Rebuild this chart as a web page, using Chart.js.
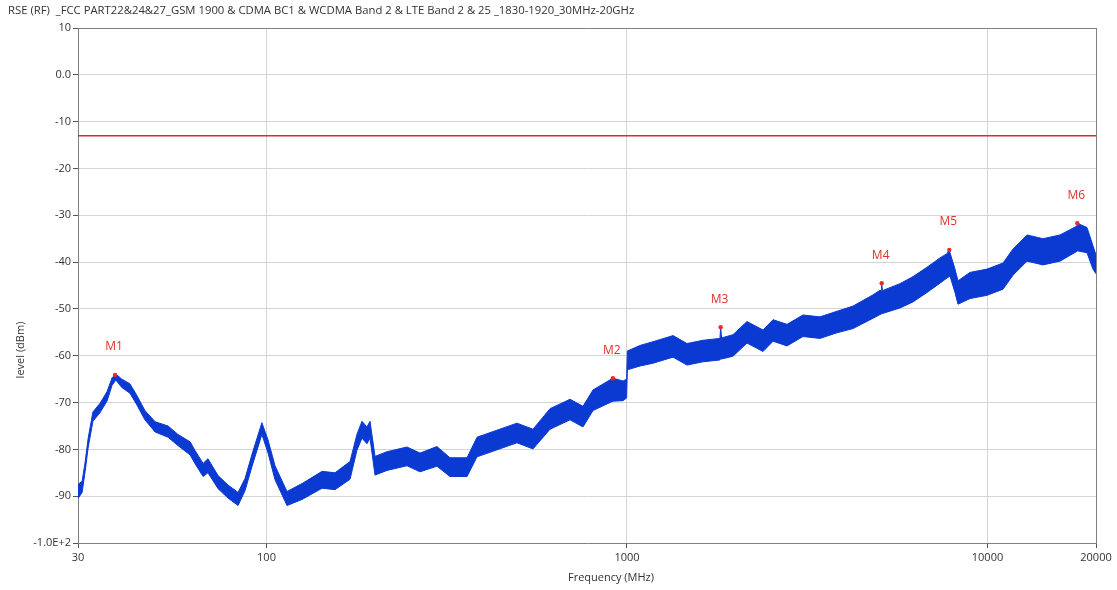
<!DOCTYPE html>
<html><head><meta charset="utf-8">
<script src="https://cdn.jsdelivr.net/npm/chart.js@4.4.0/dist/chart.umd.min.js"></script>
<style>html,body{margin:0;padding:0;background:#fff}#wrap{width:1117px;height:590px}</style>
</head><body><div id="wrap"><canvas id="c" width="1117" height="590"></canvas></div>
<script>
const chartTitle = "RSE (RF)  _FCC PART22&24&27_GSM 1900 & CDMA BC1 & WCDMA Band 2 & LTE Band 2 & 25 _1830-1920_30MHz-20GHz";
const xAxisTitle = "Frequency (MHz)";
const yAxisTitle = "level (dBm)";
const xTicks = [30, 100, 1000, 10000, 20000];
const xTickLabels = ["30", "100", "1000", "10000", "20000"];
const yTicks = [10, 0, -10, -20, -30, -40, -50, -60, -70, -80, -90, -100];
const yTickLabels = ["10", "0.0", "-10", "-20", "-30", "-40", "-50", "-60", "-70", "-80", "-90", "-1.0E+2"];
const limitValue = -13;

const freqs = [30,30.8,31.4,32.0,33.0,34.5,36.1,37.3,38.2,39.7,41.8,43.7,46.0,49.1,53.3,56.8,61.4,63.3,66.7,68.8,73.4,78.2,83.4,87.2,91.2,97.1,101,105.6,114,125.5,142.6,154.9,170.5,178.2,184,190,193.7,200,215.9,245.3,266.6,297,322.9,360,383.7,436,495.3,548.6,611.7,695,755,805,914,975,998,1002,1087,1181,1342,1467,1625,1811,1819,1830,1969,2152,2384,2542,2779,3077,3431,3825,4236,4814,5034,5070,5088,5110,5718,6216,6796,7383,7722,7836,7871,8127,8283,8943,9968,11044,11771,12873,14256,15892,17713,17749,18879,19617,20000];
const upperLevel = [-87.5,-86.8,-82.7,-77.7,-72,-70.2,-67.7,-64.7,-63.9,-65.0,-66,-68.5,-71.7,-74.1,-75,-76.8,-78.4,-80.2,-83,-82,-85.6,-87.6,-89.2,-86.2,-81,-74.3,-78,-83.5,-89,-87.3,-84.7,-85,-82.6,-76.8,-74,-75.2,-74,-81.5,-80.5,-79.5,-80.8,-79.4,-81.8,-81.8,-77.4,-75.9,-74.4,-75.7,-71.3,-69.3,-70.8,-67.3,-64.8,-65.4,-65,-59,-57.8,-57,-55.7,-57.4,-56.7,-56.3,-53.9,-56.2,-55.5,-52.7,-54.5,-52.3,-53.3,-51.3,-51.7,-50.5,-49.4,-47,-46,-46.1,-44.5,-46.1,-44.6,-43.1,-41.1,-39.1,-38.2,-37.4,-38,-41.5,-44,-42.2,-41.5,-40.2,-37.2,-34.2,-35,-34.2,-32.3,-31.7,-32.6,-36.5,-38.5];
const lowerLevel = [-90.5,-89.2,-84.7,-79.7,-74,-72.2,-69.7,-66.3,-65.2,-66.8,-68,-70.5,-73.7,-76.3,-77.4,-79.2,-81.2,-83,-85.8,-85,-88.4,-90.4,-92,-88.8,-83.6,-76.8,-80.8,-86.5,-92,-90.7,-88.3,-88.6,-86.4,-80.2,-77.6,-78.8,-77.6,-85.5,-84.5,-83.5,-84.8,-83.6,-85.8,-85.8,-81.6,-80.1,-78.6,-79.9,-75.7,-73.7,-75.2,-71.7,-69.7,-69.6,-69,-63,-62.2,-61.6,-60.3,-62,-61.3,-60.9,-60.6,-60.7,-60.1,-57.3,-59.1,-56.9,-57.9,-55.9,-56.3,-55.1,-54.2,-52,-51.2,-51.1,-51.0,-51.0,-49.8,-48.5,-46.5,-44.5,-43.4,-43.1,-43,-46.5,-49,-47.8,-47.1,-45.8,-42.8,-39.8,-40.6,-39.8,-37.7,-37.6,-38,-41.5,-42.5];

const markerNames = ["M1", "M2", "M3", "M4", "M5", "M6"];
const markerFreqs = [38.0, 914, 1819, 5088, 7836, 17749];
const markerLevels = [-64.1, -64.8, -53.9, -44.5, -37.4, -31.7];

const FONT = "'Open Sans', 'DejaVu Sans', sans-serif";
const BLUE = '#0b3ad2';

const textPlugin = {
  id: 'texts',
  afterDraw(chart) {
    const ctx = chart.ctx;
    const xs = chart.scales.x, ys = chart.scales.y;
    ctx.save();
    ctx.fillStyle = '#333';
    ctx.font = "11.3px " + FONT;
    ctx.textAlign = 'left'; ctx.textBaseline = 'middle';
    ctx.fillText(chartTitle, 8, 11);
    ctx.font = "11px " + FONT;
    ctx.textAlign = 'center';
    ctx.fillText(xAxisTitle, 611, 578);
    ctx.translate(21, 350);
    ctx.rotate(-Math.PI / 2);
    ctx.fillText(yAxisTitle, 0, 0);
    ctx.restore();
    ctx.save();
    ctx.fillStyle = '#e0302a';
    ctx.font = "12px " + FONT;
    ctx.textAlign = 'center'; ctx.textBaseline = 'middle';
    markerNames.forEach((n, i) => {
      const px = xs.getPixelForValue(markerFreqs[i]);
      const py = ys.getPixelForValue(markerLevels[i]);
      ctx.fillText(n, px - 1, py - 28);
    });
    ctx.restore();
  }
};

new Chart(document.getElementById('c'), {
  type: 'line',
  data: {
    datasets: [
      {
        label: 'limit',
        data: [{x: xTicks[0], y: limitValue}, {x: xTicks[xTicks.length - 1], y: limitValue}],
        borderColor: '#e02a22', borderWidth: 1.5, pointRadius: 0, fill: false, order: 3
      },
      {
        label: 'lower',
        data: freqs.map((f, i) => ({x: f, y: lowerLevel[i]})),
        borderColor: BLUE, borderWidth: 1, pointRadius: 0, fill: false, order: 2
      },
      {
        label: 'upper',
        data: freqs.map((f, i) => ({x: f, y: upperLevel[i]})),
        borderColor: BLUE, borderWidth: 1, pointRadius: 0, fill: '-1', backgroundColor: BLUE, order: 1
      },
      {
        label: 'markers',
        type: 'scatter',
        data: markerFreqs.map((f, i) => ({x: f, y: markerLevels[i]})),
        pointRadius: 2.2, pointBackgroundColor: '#e0302a', pointBorderColor: '#c02020', borderWidth: 0, order: 0, showLine: false
      }
    ]
  },
  options: {
    responsive: false,
    animation: false,
    layout: {padding: {top: 28, right: 21, left: 0, bottom: 0}},
    plugins: {legend: {display: false}, tooltip: {enabled: false}, title: {display: false}},
    scales: {
      x: {
        type: 'logarithmic', min: 30, max: 20000,
        afterBuildTicks(scale) { scale.ticks = xTicks.map(v => ({value: v})); },
        afterFit(scale) { scale.height = 47; },
        border: {color: '#808080', width: 1},
        grid: {
          color: c => (c.tick && c.tick.value === 20000) ? '#808080' : '#d4d4d4',
          tickColor: '#555', tickLength: 5, drawTicks: true
        },
        ticks: {
          autoSkip: false, maxRotation: 0, padding: 3,
          color: '#333', font: {family: FONT, size: 11},
          callback: (v, i) => xTickLabels[i]
        }
      },
      y: {
        type: 'linear', min: -100, max: 10,
        afterBuildTicks(scale) { scale.ticks = yTicks.map(v => ({value: v})); },
        afterFit(scale) { scale.width = 78; },
        border: {color: '#808080', width: 1},
        grid: {
          color: c => (c.tick && c.tick.value === 10) ? '#808080' : '#d4d4d4',
          tickColor: '#555', tickLength: 5
        },
        ticks: {
          autoSkip: false, padding: 2,
          color: '#333', font: {family: FONT, size: 11},
          callback: (v, i) => yTickLabels[i]
        }
      }
    }
  },
  plugins: [textPlugin]
});
</script>
</body></html>
